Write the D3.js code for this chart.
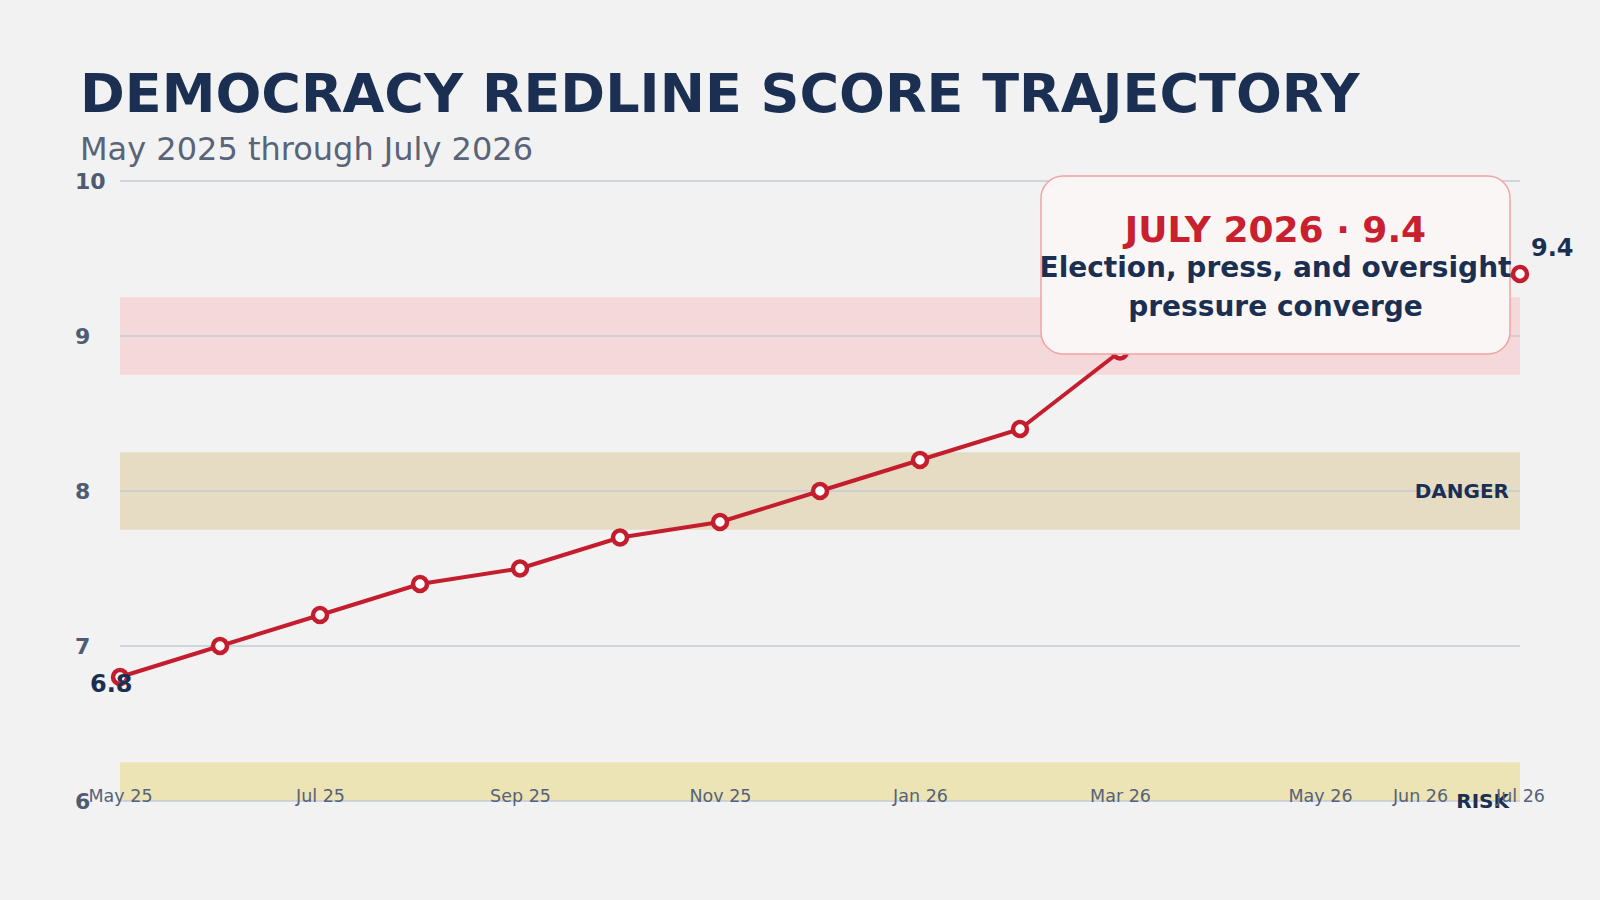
<!DOCTYPE html>
<html lang="en">
<head>
<meta charset="UTF-8">
<title>Democracy Redline Score Trajectory</title>
<script src="https://d3js.org/d3.v7.min.js"></script>
<style>
  html, body { margin: 0; padding: 0; background: #f2f2f2; }
  svg { display: block; font-family: "DejaVu Sans", sans-serif; }
</style>
</head>
<body>
<div id="chart"></div>
<script>

// Data
var months = ["May 25", "Jun 25", "Jul 25", "Aug 25", "Sep 25", "Oct 25", "Nov 25", "Dec 25",
              "Jan 26", "Feb 26", "Mar 26", "Apr 26", "May 26", "Jun 26", "Jul 26"];
var scores = [6.8, 7.0, 7.2, 7.4, 7.5, 7.7, 7.8, 8.0, 8.2, 8.4, 8.9, 9.1, 9.2, 9.3, 9.4];
var tickMonths = ["May 25", "Jul 25", "Sep 25", "Nov 25", "Jan 26", "Mar 26", "May 26", "Jun 26", "Jul 26"];
var yTicks = [6, 7, 8, 9, 10];

// threshold bands (centre value, label)
var bandCenters = [6, 8, 9];
var bandLabels = ["RISK", "DANGER", "REDLINE"];
var bandColors = ["#ece4b5", "#e6dcc3", "#f4d8da"];

var calloutTitle = "JULY 2026 \u00b7 9.4";
var calloutLines = ["Election, press, and oversight", "pressure converge"];

var W = 1600, H = 900;
var margin = {top: 181, right: 80, bottom: 99, left: 120};

var svg = d3.select("#chart").append("svg")
    .attr("width", W)
    .attr("height", H);

svg.append("rect").attr("width", W).attr("height", H).attr("fill", "#f2f2f2");

// title
svg.append("text")
    .attr("x", 80).attr("y", 112)
    .attr("fill", "#1b2f52")
    .style("font-size", "54px").style("font-weight", "bold")
    .text("DEMOCRACY REDLINE SCORE TRAJECTORY");

svg.append("text")
    .attr("x", 80).attr("y", 160)
    .attr("fill", "#5a6479")
    .style("font-size", "32px")
    .text("May 2025 through July 2026");

var x = d3.scalePoint()
    .domain(months)
    .range([margin.left, W - margin.right]);

var y = d3.scaleLinear()
    .domain([6, 10])
    .range([H - margin.bottom, margin.top]);

// bands
var bands = svg.append("g");
bandCenters.forEach(function(c, i) {
  var lo = Math.max(c - 0.25, 6), hi = Math.min(c + 0.25, 10);
  bands.append("rect")
    .attr("x", x.range()[0])
    .attr("width", x.range()[1] - x.range()[0])
    .attr("y", y(hi))
    .attr("height", y(lo) - y(hi))
    .attr("fill", bandColors[i]);
});

// gridlines
svg.append("g")
  .selectAll("line")
  .data(yTicks)
  .enter().append("line")
    .attr("x1", x.range()[0]).attr("x2", x.range()[1])
    .attr("y1", function(d) { return y(d); })
    .attr("y2", function(d) { return y(d); })
    .attr("stroke", "#c4cad5")
    .attr("stroke-width", 1.6);

// band labels
bandCenters.forEach(function(c, i) {
  svg.append("text")
    .attr("x", x.range()[1] - 11)
    .attr("y", y(c))
    .attr("dy", "0.35em")
    .attr("text-anchor", "end")
    .attr("fill", "#1b2f52")
    .style("font-size", "20px").style("font-weight", "bold")
    .text(bandLabels[i]);
});

// y axis labels
var yAxis = svg.append("g")
    .attr("transform", "translate(" + margin.left + ",0)")
    .call(d3.axisLeft(y).tickValues(yTicks).tickSize(0).tickFormat(d3.format("d")));
yAxis.select(".domain").remove();
yAxis.selectAll("text")
    .attr("x", -45)
    .attr("dy", "0.35em")
    .attr("text-anchor", "start")
    .attr("fill", "#4f5b72")
    .style("font-family", "DejaVu Sans")
    .style("font-size", "22px")
    .style("font-weight", "bold");

// x axis labels
var xAxis = svg.append("g")
    .attr("transform", "translate(0," + (H - margin.bottom) + ")")
    .call(d3.axisBottom(x).tickValues(tickMonths).tickSize(0));
xAxis.select(".domain").remove();
xAxis.selectAll("text")
    .attr("y", 1)
    .attr("dy", 0)
    .attr("fill", "#56617a")
    .style("font-family", "DejaVu Sans")
    .style("font-size", "17.5px");

// line
var line = d3.line()
    .x(function(d, i) { return x(months[i]); })
    .y(function(d) { return y(d); });

svg.append("path")
    .datum(scores)
    .attr("d", line)
    .attr("fill", "none")
    .attr("stroke", "#c41e2e")
    .attr("stroke-width", 4)
    .attr("stroke-linejoin", "round");

svg.append("g")
  .selectAll("circle")
  .data(scores)
  .enter().append("circle")
    .attr("cx", function(d, i) { return x(months[i]); })
    .attr("cy", function(d) { return y(d); })
    .attr("r", 7)
    .attr("fill", "#ffffff")
    .attr("stroke", "#c41e2e")
    .attr("stroke-width", 4.5);

// first / last value labels
var n = scores.length - 1;
svg.append("text")
    .attr("x", x(months[0]) - 30)
    .attr("y", y(scores[0]) + 15)
    .attr("fill", "#1b2f52")
    .style("font-size", "24px").style("font-weight", "bold")
    .text(scores[0].toFixed(1));

svg.append("text")
    .attr("x", x(months[n]) + 11)
    .attr("y", y(scores[n]) - 18)
    .attr("fill", "#1b2f52")
    .style("font-size", "24px").style("font-weight", "bold")
    .text(scores[n].toFixed(1));

// callout box
var boxW = 469, boxH = 178;
var boxX = x(months[n]) - 10 - boxW, boxY = y(10) - 5;
var cx = boxX + boxW / 2;

svg.append("rect")
    .attr("x", boxX).attr("y", boxY)
    .attr("width", boxW).attr("height", boxH)
    .attr("rx", 22).attr("ry", 22)
    .attr("fill", "#faf6f5")
    .attr("stroke", "#f0a4a4")
    .attr("stroke-width", 1.5);

svg.append("text")
    .attr("x", cx).attr("y", boxY + 66)
    .attr("text-anchor", "middle")
    .attr("fill", "#c8202f")
    .style("font-size", "36px").style("font-weight", "bold")
    .text(calloutTitle);

calloutLines.forEach(function(t, i) {
  svg.append("text")
    .attr("x", cx).attr("y", boxY + 101 + i * 39)
    .attr("text-anchor", "middle")
    .attr("fill", "#1b2f52")
    .style("font-size", "28px").style("font-weight", "bold")
    .text(t);
});

</script>
</body>
</html>
